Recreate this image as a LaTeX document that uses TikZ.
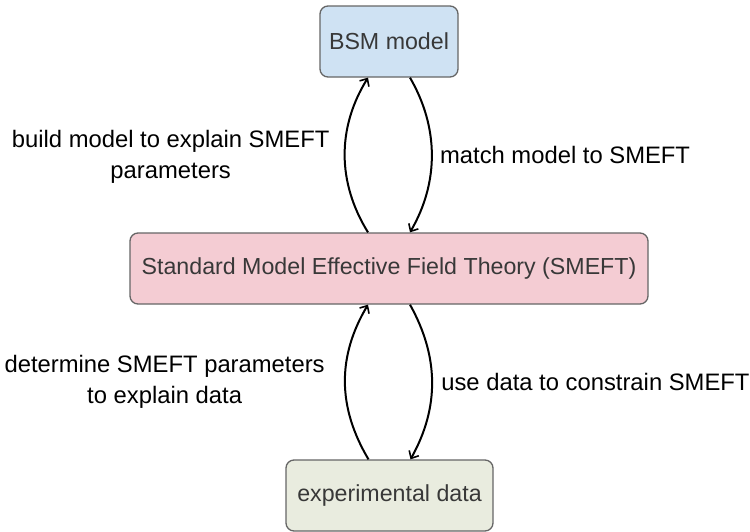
\documentclass[tikz,border=0pt]{standalone}
\usepackage{fontspec}
\setmainfont{Liberation Sans}
\usetikzlibrary{arrows.meta}
\definecolor{bsmfill}{HTML}{CFE2F3}
\definecolor{smeftfill}{HTML}{F4CCD3}
\definecolor{expfill}{HTML}{E9ECDF}
\definecolor{boxline}{HTML}{666666}
\definecolor{boxtext}{HTML}{383838}
\tikzset{
  box/.style={draw=boxline, line width=1.3pt, rounded corners=8pt, minimum height=71pt,
    inner sep=0pt, text=boxtext, font=\fontsize{23.2}{28}\selectfont},
  flow/.style={line width=2pt, -{Straight Barb[length=6pt,width=11pt,line width=1.6pt]}},
  lbl/.style={font=\fontsize{23.8}{31}\selectfont, align=center, text=black}
}
\begin{document}
\begin{tikzpicture}[x=1pt,y=-1pt]
\useasboundingbox (0,0) rectangle (750,531);
\node[box, fill=bsmfill, minimum width=138pt] (bsm) at (389,41.5) {BSM model};
\node[box, fill=smeftfill, minimum width=518pt] (smeft) at (389,268.5) {Standard Model Effective Field Theory (SMEFT)};
\node[box, fill=expfill, minimum width=207pt] (exp) at (389.5,495.5) {experimental data};

\draw[flow] ([xshift=-21pt]smeft.north) .. controls +(-31,-50) and +(-31,50) .. ([xshift=-21pt]bsm.south)
  node[lbl, pos=0.5, anchor=east, xshift=-11pt, yshift=-2pt] (l1) {build model to explain SMEFT\\parameters};
\draw[flow] ([xshift=21pt]bsm.south) .. controls +(29,50) and +(29,-50) .. ([xshift=21pt]smeft.north)
  node[lbl, pos=0.5, anchor=west, xshift=4pt] (l2) {match model to SMEFT};
\draw[flow] ([xshift=-21pt]exp.north) .. controls +(-31,-52) and +(-31,52) .. ([xshift=-21pt]smeft.south)
  node[lbl, pos=0.5, anchor=east, xshift=-16pt] (l3) {determine SMEFT parameters\\to explain data};
\draw[flow] ([xshift=21pt]smeft.south) .. controls +(29,52) and +(29,-52) .. ([xshift=21pt]exp.north)
  node[lbl, pos=0.5, anchor=west, xshift=5pt] (l4) {use data to constrain SMEFT};
\end{tikzpicture}
\end{document}
